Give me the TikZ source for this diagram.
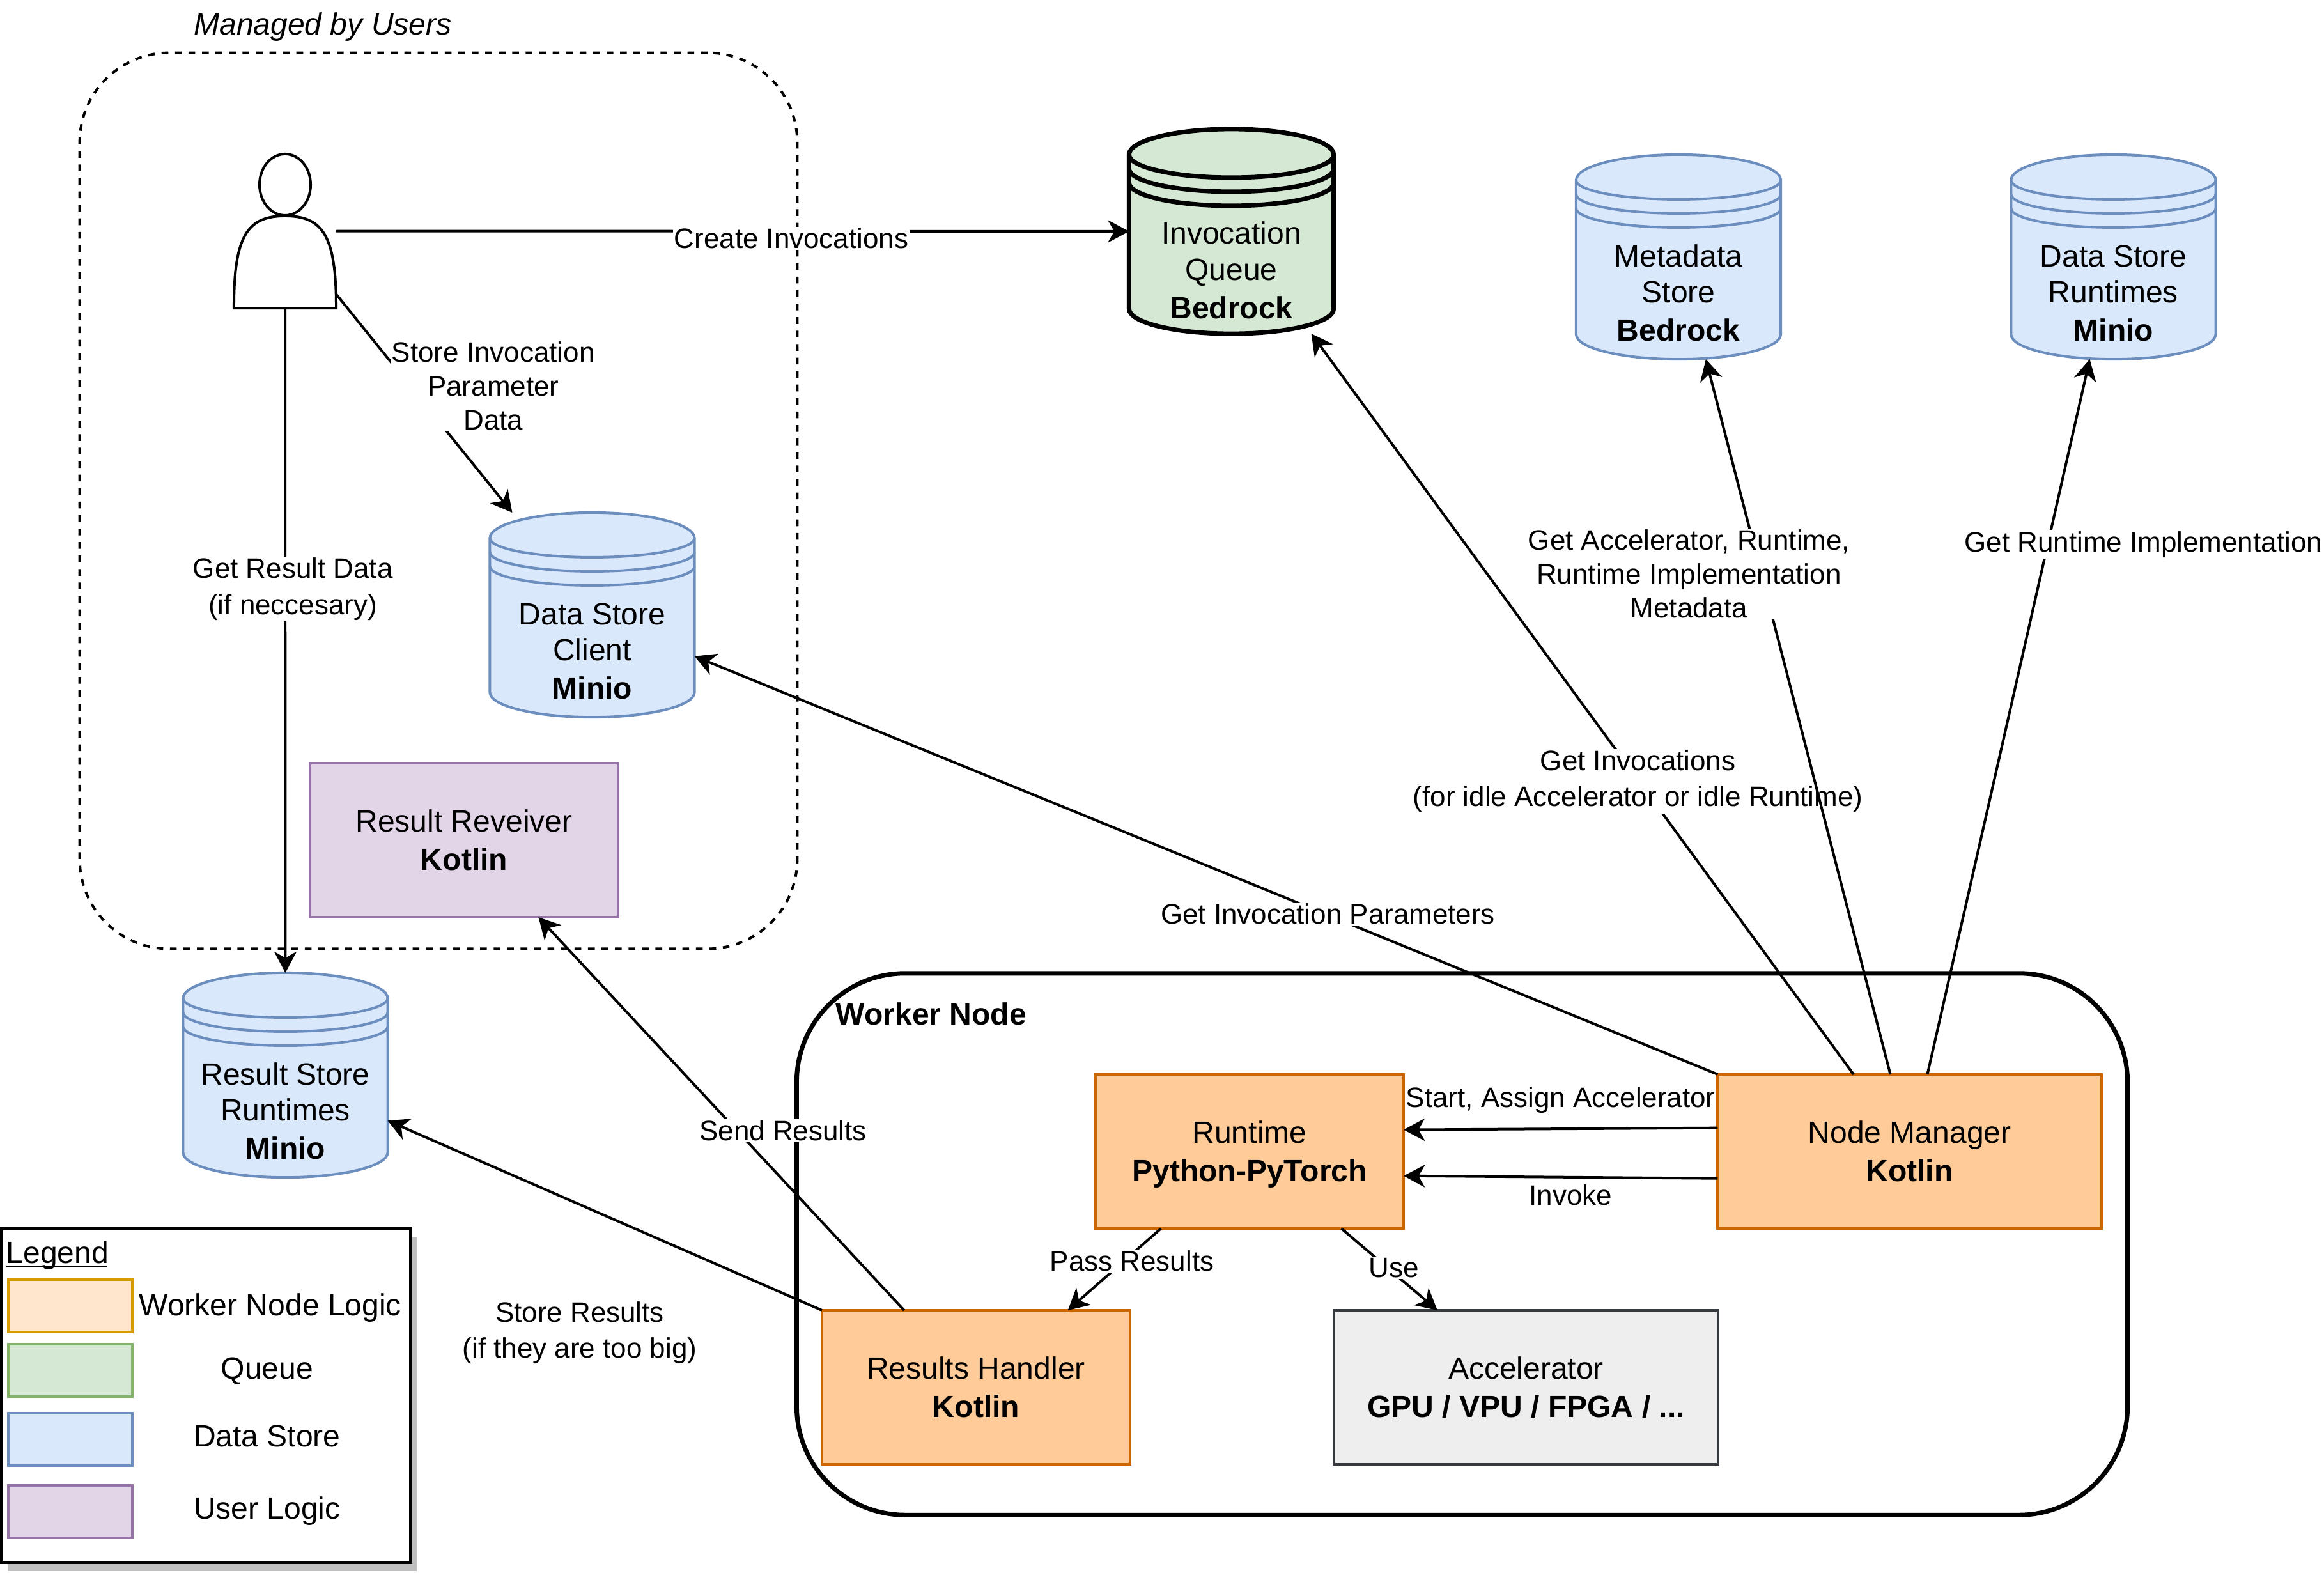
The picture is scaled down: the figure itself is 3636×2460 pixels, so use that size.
\documentclass[tikz,border=0pt]{standalone}
\usepackage{fontspec}
\setmainfont{Liberation Sans}
\usetikzlibrary{arrows.meta, positioning, calc, backgrounds, shadows}
\definecolor{workerfill}{HTML}{FFCC99}
\definecolor{workerline}{HTML}{CC6600}
\definecolor{workerlight}{HTML}{FFE6CC}
\definecolor{workerlightline}{HTML}{D79B00}
\definecolor{queuefill}{HTML}{D5E8D4}
\definecolor{queueline}{HTML}{82B366}
\definecolor{storefill}{HTML}{DAE8FC}
\definecolor{storeline}{HTML}{6C8EBF}
\definecolor{userfill}{HTML}{E1D5E7}
\definecolor{userline}{HTML}{9673A6}
\definecolor{accelfill}{HTML}{EEEEEE}
\definecolor{accelline}{HTML}{36393D}
\newcommand{\storeshape}[3]{
    \begin{scope}[on background layer]
        \draw[#2] ($(#1.north west)+(0,40)$) arc[start angle=180, end angle=0, x radius=1.6cm, y radius=.4cm]
            -- ($(#1.south east)+(0,-39)$) arc[start angle=0, end angle=-180, x radius=1.6cm, y radius=.39cm] -- cycle;
        \draw[#2, fill=none] ($(#1.north west)+(0,40)$) arc[start angle=180, end angle=360, x radius=1.6cm, y radius=#3];
        \draw[#2, fill=none] ($(#1.north west)+(0,62)$) arc[start angle=180, end angle=360, x radius=1.6cm, y radius=#3];
        \draw[#2, fill=none] ($(#1.north west)+(0,84)$) arc[start angle=180, end angle=360, x radius=1.6cm, y radius=#3];
    \end{scope}
}
\begin{document}
\begin{tikzpicture}[
        x=0.01cm, y=-0.01cm,
        basefont/.style={font=\fontsize{13.66}{16}\selectfont},
        block/.style={rectangle, draw, line width=.04cm, outer sep=0pt, inner sep=0pt,
                      minimum width=4.82cm, minimum height=2.41cm, align=center, basefont},
        wideblock/.style={block, minimum width=6cm},
        datastore/.style={rectangle, outer sep=0pt, inner sep=0pt,
                      minimum width=3.2cm, minimum height=3.2cm, align=center, basefont},
        storeblue/.style={draw=storeline, fill=storefill, line width=.04cm},
        storequeue/.style={draw=black, fill=queuefill, line width=.07cm},
        arrow/.style={-{Stealth[length=9.4pt, width=10pt, inset=2.8pt]}, line width=.04cm},
        lbl/.style={fill=white, inner sep=.5pt, align=center, font=\fontsize{12.5}{16}\selectfont},
        lbltight/.style={lbl, font=\fontsize{12.5}{15}\selectfont},
        swatch/.style={rectangle, line width=.04cm, outer sep=0pt,
                      minimum width=1.94cm, minimum height=.82cm},
        legendtext/.style={right=0pt of #1, minimum width=4.3cm, inner sep=0pt, align=center, basefont},
    ]
    \useasboundingbox (0,0) rectangle (3636,2460);

    \node[rectangle, draw, dashed, line width=.04cm, rounded corners=1.4cm, outer sep=0pt,
          minimum width=11.22cm, minimum height=14.01cm] (users) at (686,783.5) {};
    \node[basefont, inner sep=0pt] (usersname) at (505,42) {\textit{Managed by Users}};
    \node[rectangle, draw, line width=.07cm, rounded corners=1.7cm, outer sep=0pt,
          minimum width=20.81cm, minimum height=8.47cm] (worker) at (2287.5,1946.5) {};
    \node[basefont, inner sep=0pt] (workername) at (1457,1586) {\textbf{Worker Node}};

    \node[rectangle, outer sep=0pt, inner sep=0pt, minimum width=1.6cm, minimum height=2.41cm] (person) at (446,361.5) {};
    \begin{scope}[on background layer]
        \draw[line width=.04cm, fill=white] (person.south west) .. controls +(0,-112) and +(-60,0) .. ($(person.north)+(0,97)$)
            .. controls +(60,0) and +(0,-112) .. (person.south east) -- cycle;
        \draw[line width=.04cm, fill=white] ($(person.north)+(0,48)$) ellipse[x radius=.4cm, y radius=.48cm];
    \end{scope}

    \node[datastore] (client) at (926.5,962) {\mbox{}\\[26pt]Data Store\\Client\\[1pt]\textbf{Minio}};
    \storeshape{client}{storeblue}{.3cm}
    \node[datastore] (queue) at (1926.5,362) {\mbox{}\\[28.5pt]Invocation\\Queue\\[1pt]\textbf{Bedrock}};
    \storeshape{queue}{storequeue}{.36cm}
    \node[datastore] (metadata) at (2626,402) {\mbox{}\\[26pt]Metadata\\Store\\[1pt]\textbf{Bedrock}};
    \storeshape{metadata}{storeblue}{.3cm}
    \node[datastore, right=3.6cm of metadata] (runtimes) {\mbox{}\\[26pt]Data Store\\Runtimes\\[1pt]\textbf{Minio}};
    \storeshape{runtimes}{storeblue}{.3cm}
    \node[datastore] (results) at (446.5,1682) {\mbox{}\\[26pt]Result Store\\Runtimes\\[1pt]\textbf{Minio}};
    \storeshape{results}{storeblue}{.3cm}

    \node[block, draw=userline, fill=userfill] (receiver) at (726,1314.5) {Result Reveiver\\[1pt]\textbf{Kotlin}};
    \node[block, draw=workerline, fill=workerfill] (runtime) at (1955,1801.5) {\rule{0pt}{12.5pt}Runtime\\[1pt]\textbf{Python-PyTorch}};
    \node[wideblock, draw=workerline, fill=workerfill, right=4.91cm of runtime] (manager) {Node Manager\\[1pt]\textbf{Kotlin}};
    \node[block, draw=workerline, fill=workerfill] (handler) at (1527,2170.5) {Results Handler\\[1pt]\textbf{Kotlin}};
    \node[wideblock, draw=accelline, fill=accelfill, right=3.19cm of handler] (accel) {Accelerator\\[1pt]\textbf{GPU / VPU / FPGA / ...}};

    \draw[arrow] (person.east) -- node[lbl, pos=.574, yshift=-.11cm] {Create Invocations} (queue.west);
    \draw[arrow] (person.-51.3) -- node[lbltight, pos=.42, xshift=1.3cm] {Store Invocation\\Parameter\\Data} (client.128.8);
    \draw[arrow] (person.south) -- node[lbl, pos=.418, xshift=.12cm, yshift=-.05cm] {Get Result Data\\(if neccesary)} (results.north);
    \draw[arrow] (manager.north west) -- node[lbl, pos=.381, yshift=.02cm] {Get Invocation Parameters} (client.-22);
    \draw[arrow] (manager.126.4) -- node[lbl, pos=.4, xshift=.02cm, yshift=-.05cm] {Get Invocations\\(for idle Accelerator or idle Runtime)} (queue.-52.8);
    \draw[arrow] (manager.104.4) -- node[lbltight, pos=.7, xshift=-1.13cm] {Get Accelerator, Runtime,\\Runtime Implementation\\Metadata} (metadata.-75.6);
    \draw[arrow] (manager.77.4) -- node[lbl, pos=.743, xshift=1.49cm, yshift=-.02cm] {Get Runtime Implementation} (runtimes.-103);
    \draw[arrow] (manager.173.3) -- node[lbl, fill=none, pos=.5, yshift=.45cm] {Start, Assign Accelerator} (runtime.8.2);
    \draw[arrow] (manager.-172.3) -- node[lbl, fill=none, pos=.468, yshift=-.28cm] {Invoke} (runtime.-9);
    \draw[arrow] (runtime.-139.3) -- node[lbl, pos=.4, xshift=.13cm] {Pass Results} (handler.40.5);
    \draw[arrow] (runtime.-40.5) -- node[lbl, pos=.48, xshift=.1cm] {Use} (accel.139.8);
    \draw[arrow] (handler.133.5) -- node[lbl, pos=.457, xshift=.72cm] {Send Results} (receiver.-46.8);
    \draw[arrow] (handler.north west) -- (results.-24.5);
    \node[lbl, fill=none] (storetext) at (907,2085) {Store Results\\(if they are too big)};

    \node[rectangle, draw, line width=.05cm, fill=white, outer sep=0pt, minimum width=6.4cm, minimum height=5.22cm,
          drop shadow={shadow xshift=.1cm, shadow yshift=-.14cm, opacity=1, fill=black!25}] (legend) at (322,2183) {};
    \node[basefont, inner sep=0pt, anchor=base west] (legendname) at (9,1976) {\rlap{\rule[-2pt]{45pt}{.9pt}}Legend};
    \node[swatch, draw=workerlightline, fill=workerlight] (swatchworker) at (110,2043) {};
    \node[swatch, draw=queueline, fill=queuefill] (swatchqueue) at (110,2143.5) {};
    \node[swatch, draw=storeline, fill=storefill] (swatchstore) at (110,2252) {};
    \node[swatch, draw=userline, fill=userfill] (swatchuser) at (110,2364.5) {};
    \node[legendtext=swatchworker, yshift=-.03cm] (textworker) {Worker Node Logic};
    \node[legendtext=swatchqueue, xshift=-.05cm, yshift=-.02cm] (textqueue) {Queue};
    \node[legendtext=swatchstore, xshift=-.05cm, yshift=.05cm] (textstore) {Data Store};
    \node[legendtext=swatchuser, xshift=-.05cm] (textuser) {User Logic};
\end{tikzpicture}
\end{document}
